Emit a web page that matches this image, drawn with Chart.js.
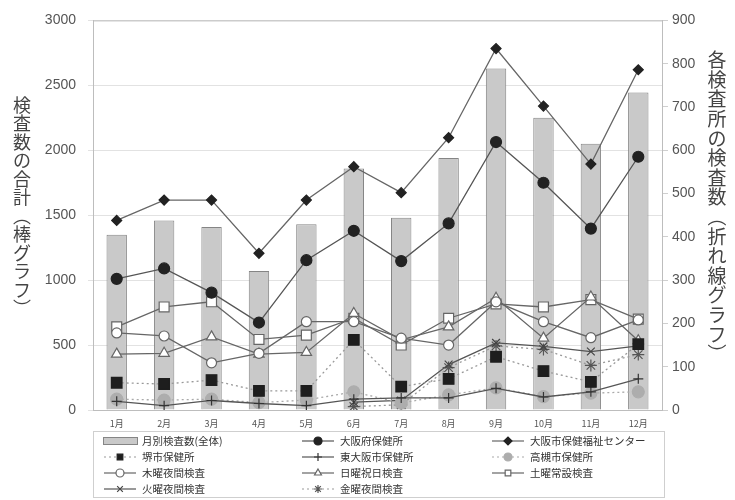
<!DOCTYPE html>
<html lang="ja">
<head>
<meta charset="utf-8">
<title>月別検査数</title>
<script src="https://cdn.jsdelivr.net/npm/chart.js@4.4.1/dist/chart.umd.min.js"></script>
<style>
  html, body { margin: 0; padding: 0; background: #fff; }
  #wrap { position: relative; width: 735px; height: 500px; }
</style>
</head>
<body>
<div id="wrap"><canvas id="testChart" width="735" height="500"></canvas></div>
<script>
// months on the x axis
const months = ['1月', '2月', '3月', '4月', '5月', '6月', '7月', '8月', '9月', '10月', '11月', '12月'];

// bars: monthly total (left axis)
const totalTests = [1350, 1460, 1410, 1070, 1430, 1860, 1480, 1940, 2630, 2250, 2050, 2445];

// lines: each testing site (right axis)
const osakaPref = [303, 327, 271, 202, 346, 414, 344, 431, 619, 525, 419, 585];
const osakaCity = [438, 485, 485, 362, 485, 562, 502, 629, 835, 702, 568, 786];
const sakai = [63, 60, 69, 44, 44, 162, 54, 72, 123, 90, 65, 152];
const higashiOsaka = [20, 10, 22, 15, 10, 25, 28, 28, 50, 30, 42, 72];
const takatsuki = [25, 23, 25, 17, 23, 42, 16, 35, 51, 31, 39, 42];
const thursdayNight = [178, 171, 109, 131, 204, 204, 166, 150, 250, 204, 167, 208];
const sundayHoliday = [129, 131, 169, 129, 133, 223, 162, 192, 258, 166, 261, 160];
const saturdayRegular = [192, 238, 250, 163, 173, 212, 150, 212, 245, 238, 255, 210];
const tuesdayNight = [null, null, null, null, null, 18, 22, 105, 155, 147, 135, 148];
const fridayNight = [null, null, null, null, null, 8, 12, 98, 148, 140, 103, 128];

const leftTicks = [0, 500, 1000, 1500, 2000, 2500, 3000];
const rightTicks = [0, 100, 200, 300, 400, 500, 600, 700, 800, 900];

const leftTitle = '検査数の合計︵棒グラフ︶';
const rightTitle = '各検査所の検査数︵折れ線グラフ︶';

const jpFont = '"Noto Sans CJK JP", "Noto Sans", sans-serif';
const numFont = '"Liberation Sans", Arial, sans-serif';

function lineSet(label, data, o) {
  return Object.assign({
    type: 'line',
    label: label,
    data: data,
    yAxisID: 'y1',
    borderColor: '#666',
    borderWidth: 1.3,
    pointBorderWidth: 1.2,
    tension: 0,
    spanGaps: false,
    order: 1
  }, o);
}

const datasets = [
  {
    type: 'bar',
    label: '月別検査数(全体)',
    data: totalTests,
    yAxisID: 'y',
    backgroundColor: '#c9c9c9',
    borderColor: '#858585',
    borderWidth: 1,
    barPercentage: 0.43,
    categoryPercentage: 1,
    order: 20
  },
  lineSet('大阪府保健所', osakaPref, { borderColor: '#555', pointStyle: 'circle', pointRadius: 5.5, pointBackgroundColor: '#222', pointBorderColor: '#222' }),
  lineSet('大阪市保健福祉センター', osakaCity, { borderColor: '#666', pointStyle: 'rectRot', pointRadius: 5, pointBackgroundColor: '#222', pointBorderColor: '#222' }),
  lineSet('堺市保健所', sakai, { borderColor: '#999', borderDash: [2, 3], pointStyle: 'rect', pointRadius: 7.5, pointBackgroundColor: '#1e1e1e', pointBorderColor: '#1e1e1e' }),
  lineSet('東大阪市保健所', higashiOsaka, { borderColor: '#555', pointStyle: 'cross', pointRadius: 5, pointBackgroundColor: '#333', pointBorderColor: '#333' }),
  lineSet('高槻市保健所', takatsuki, { borderColor: '#aaa', borderDash: [2, 3], pointStyle: 'circle', pointRadius: 6, pointBackgroundColor: '#adadad', pointBorderColor: '#adadad' }),
  lineSet('木曜夜間検査', thursdayNight, { borderColor: '#666', pointStyle: 'circle', pointRadius: 5, pointBackgroundColor: '#fff', pointBorderColor: '#666' }),
  lineSet('日曜祝日検査', sundayHoliday, { borderColor: '#666', pointStyle: 'triangle', pointRadius: 6, pointBackgroundColor: '#fff', pointBorderColor: '#666' }),
  lineSet('土曜常設検査', saturdayRegular, { borderColor: '#666', pointStyle: 'rect', pointRadius: 7, pointBackgroundColor: '#fff', pointBorderColor: '#666' }),
  lineSet('火曜夜間検査', tuesdayNight, { borderColor: '#555', pointStyle: 'crossRot', pointRadius: 5.5, pointBackgroundColor: '#444', pointBorderColor: '#444' }),
  lineSet('金曜夜間検査', fridayNight, { borderColor: '#999', borderDash: [2, 3], pointStyle: 'star', pointRadius: 6, pointBackgroundColor: '#555', pointBorderColor: '#555' })
];

// plot frame + upright vertical axis titles
const framePlugin = {
  id: 'frame',
  afterDraw(chart) {
    const { ctx, chartArea: a } = chart;
    ctx.save();
    ctx.strokeStyle = '#bdbdbd';
    ctx.lineWidth = 1;
    ctx.strokeRect(a.left + 0.5, a.top + 0.5, a.right - a.left, a.bottom - a.top);

    ctx.fillStyle = '#444';
    ctx.textAlign = 'center';
    ctx.textBaseline = 'middle';
    ctx.font = '18px ' + jpFont;
    [...leftTitle].forEach((ch, i) => ctx.fillText(ch, 22, 105 + i * 18.5));
    ctx.font = '19px ' + jpFont;
    [...rightTitle].forEach((ch, i) => ctx.fillText(ch, 717, 60 + i * 19.6));
    ctx.restore();
  }
};

// boxed legend in three columns
const legendPlugin = {
  id: 'boxLegend',
  afterDraw(chart) {
    const ctx = chart.ctx;
    const cols = [100, 298, 488];
    const rows = [441, 457, 473, 489];
    ctx.save();
    ctx.strokeStyle = '#cfcfcf';
    ctx.lineWidth = 1;
    ctx.strokeRect(93.5, 431.5, 571, 66);
    ctx.font = '10.5px ' + jpFont;
    ctx.textBaseline = 'middle';
    ctx.textAlign = 'left';
    chart.data.datasets.forEach((ds, i) => {
      const x = cols[i % 3];
      const y = rows[Math.floor(i / 3)];
      if (ds.type === 'bar') {
        ctx.fillStyle = ds.backgroundColor;
        ctx.strokeStyle = ds.borderColor;
        ctx.fillRect(x + 3, y - 3.5, 34, 7);
        ctx.strokeRect(x + 3.5, y - 3.5, 34, 7);
      } else {
        ctx.strokeStyle = ds.borderColor;
        ctx.lineWidth = 1.2;
        ctx.setLineDash(ds.borderDash || []);
        ctx.beginPath();
        ctx.moveTo(x + 4, y);
        ctx.lineTo(x + 36, y);
        ctx.stroke();
        ctx.setLineDash([]);
        ctx.fillStyle = ds.pointBackgroundColor;
        ctx.strokeStyle = ds.pointBorderColor;
        Chart.helpers.drawPoint(ctx, {
          pointStyle: ds.pointStyle,
          radius: Math.min(ds.pointRadius, 5) * 0.8,
          rotation: 0,
          borderWidth: 1
        }, x + 20, y);
      }
      ctx.fillStyle = '#333';
      ctx.fillText(ds.label, x + 42, y);
    });
    ctx.restore();
  }
};

new Chart(document.getElementById('testChart'), {
  data: { labels: months, datasets: datasets },
  options: {
    responsive: false,
    animation: false,
    layout: { padding: { top: 19, left: 0, right: 0, bottom: 0 } },
    plugins: {
      legend: { display: false },
      tooltip: { enabled: false }
    },
    scales: {
      x: {
        offset: true,
        grid: { display: true, drawOnChartArea: false, drawTicks: false },
        border: { display: true, color: '#bdbdbd' },
        ticks: { color: '#555', font: { family: jpFont, size: 9 }, padding: 8, maxRotation: 0 },
        afterFit(scale) { scale.height = 90; }
      },
      y: {
        position: 'left',
        min: 0,
        max: 3000,
        afterBuildTicks(scale) { scale.ticks = leftTicks.map(v => ({ value: v })); },
        grid: { color: '#e2e2e2', tickLength: 5 },
        border: { display: true, color: '#bdbdbd' },
        ticks: { color: '#555', font: { family: numFont, size: 14 }, padding: 12, callback: v => String(v) },
        afterFit(scale) { scale.width = 93; }
      },
      y1: {
        position: 'right',
        min: 0,
        max: 900,
        afterBuildTicks(scale) { scale.ticks = rightTicks.map(v => ({ value: v })); },
        grid: { drawOnChartArea: false, color: '#cfcfcf', tickLength: 6 },
        border: { display: true, color: '#bdbdbd' },
        ticks: { color: '#555', font: { family: numFont, size: 14 }, padding: 4, callback: v => String(v) },
        afterFit(scale) { scale.width = 73; }
      }
    }
  },
  plugins: [framePlugin, legendPlugin]
});
</script>
</body>
</html>
